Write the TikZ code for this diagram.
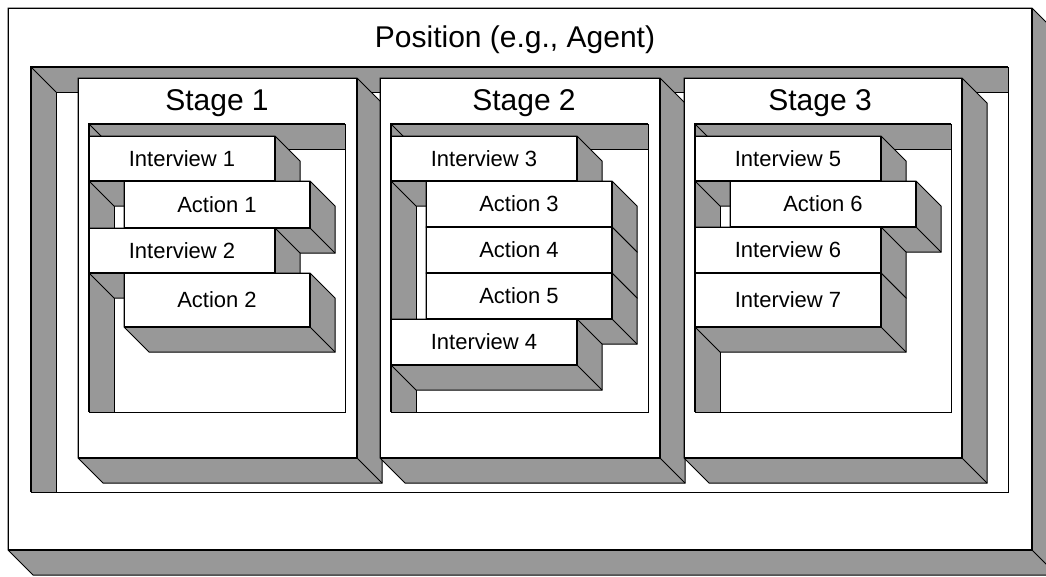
\documentclass[tikz,border=0pt]{standalone}
\usepackage{fontspec}
\setmainfont{Liberation Sans}
\usepackage{tikz}

\definecolor{wallgray}{RGB}{152,152,152}
\newcommand{\boxdepth}{25}

\tikzset{
  face/.style={draw=black, line width=1pt, fill=white},
  side/.style={draw=black, line width=1pt, fill=wallgray, line join=miter},
  rim/.style={line width=2.6pt, line join=miter},
  lbl/.style={font=\fontsize{22}{22}\selectfont, inner sep=0pt, text height=15.5pt, text depth=0pt},
  ttl/.style={font=\fontsize{30}{30}\selectfont, inner sep=0pt, text height=21.5pt, text depth=0pt}
}

% raised block: x1 y1 x2 y2, extruded down-right
\newcommand{\block}[4]{%
  \draw[side] (#1,#2) -- (#3,#2) -- (#3+\boxdepth,#2+\boxdepth) -- (#3+\boxdepth,#4+\boxdepth)
    -- (#1+\boxdepth,#4+\boxdepth) -- (#1,#4) -- cycle;
  \draw[side] (#3,#4) -- (#3+\boxdepth,#4+\boxdepth);
  \draw[face] (#1,#2) rectangle (#3,#4);
  \draw[rim] (#3,#2) -- (#3,#4) -- (#1,#4);
}
% block with a centred label
\newcommand{\entry}[6]{%
  \block{#2}{#3}{#4}{#5}
  \node[lbl] (#1) at ({(#2+#4)/2},{(#3+#5)/2}) {#6};
}
% sunken frame: walls on top and left
\newcommand{\well}[4]{%
  \draw[face] (#1,#2) rectangle (#3,#4);
  \draw[side] (#1,#2) -- (#3,#2) -- (#3,#2+\boxdepth) -- (#1+\boxdepth,#2+\boxdepth)
    -- (#1+\boxdepth,#4) -- (#1,#4) -- cycle;
  \draw[side] (#1,#2) -- (#1+\boxdepth,#2+\boxdepth);
  \draw[rim] (#1,#4) -- (#1,#2) -- (#3,#2);
}

\begin{document}
\begin{tikzpicture}[x=1pt, y=-1pt]
  \useasboundingbox (0,0) rectangle (1046,576);
  \clip (0,0) rectangle (1046,576);

  % position
  \block{8}{8}{1032}{550}
  \node[ttl] (position) at (515,37) {Position (e.g., Agent)};
  \well{31}{67}{1008}{492}

  % stages
  \block{78}{78}{357}{458}
  \node[ttl] (stage1) at (217,100) {Stage 1};
  \well{89}{124}{345}{412}
  \entry{int1}{89}{136}{275}{181}{Interview 1}
  \entry{act1}{124}{181}{310}{228}{Action 1}
  \entry{int2}{89}{228}{275}{273}{Interview 2}
  \entry{act2}{124}{273}{310}{327}{Action 2}

  \block{380}{78}{660}{458}
  \node[ttl] (stage2) at (524,100) {Stage 2};
  \well{391}{124}{648}{412}
  \entry{int3}{391}{136}{577}{181}{Interview 3}
  \entry{act3}{426}{181}{612}{227}{Action 3}
  \entry{act4}{426}{227}{612}{273}{Action 4}
  \entry{act5}{426}{273}{612}{319}{Action 5}
  \entry{int4}{391}{319}{577}{365}{Interview 4}

  \block{684}{78}{962}{458}
  \node[ttl] (stage3) at (820,100) {Stage 3};
  \well{695}{124}{951}{412}
  \entry{int5}{695}{136}{881}{181}{Interview 5}
  \entry{act6}{730}{181}{916}{227}{Action 6}
  \entry{int6}{695}{227}{881}{273}{Interview 6}
  \entry{int7}{695}{273}{881}{327}{Interview 7}
\end{tikzpicture}
\end{document}
